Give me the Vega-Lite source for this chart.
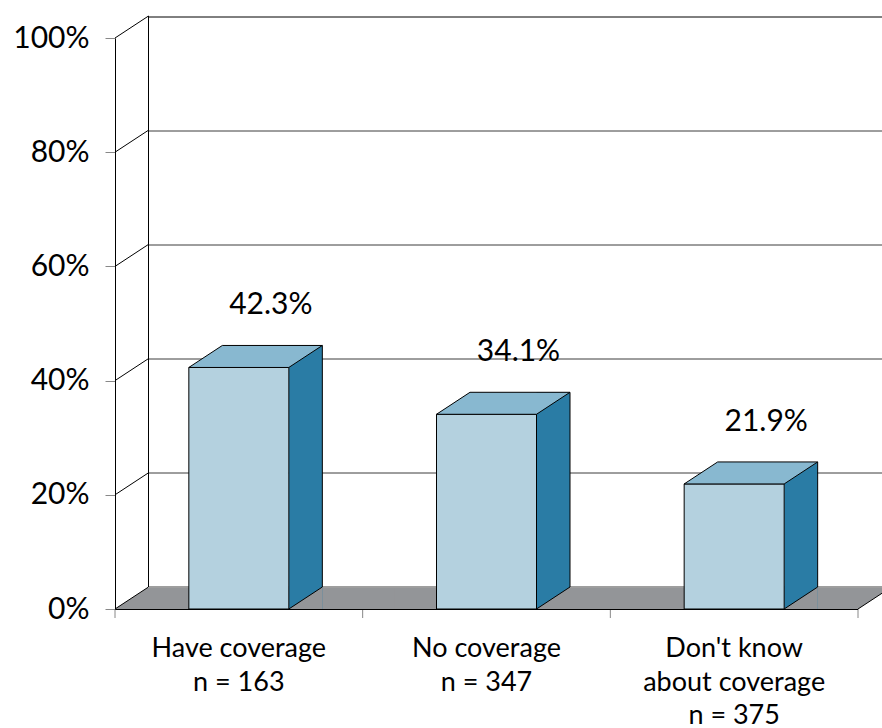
{
  "$schema": "https://vega.github.io/schema/vega-lite/v6.json",
  "width": 743,
  "height": 571,
  "autosize": {"type": "none"},
  "padding": {"left": 115, "top": 38, "right": 24, "bottom": 119},
  "background": "white",
  "config": {"view": {"stroke": null}, "font": "Lato"},
  "data": {
    "values": [
      {"group": "Have coverage|n = 163", "pct": 0.423},
      {"group": "No coverage|n = 347", "pct": 0.341},
      {"group": "Don't know|about coverage|n = 375", "pct": 0.219}
    ]
  },
  "resolve": {"scale": {"y": "independent"}, "axis": {"y": "independent"}},
  "layer": [
    {
      "transform": [{"aggregate": [{"op": "count", "as": "rows"}]}],
      "mark": {"type": "rule", "strokeOpacity": 0, "opacity": 0},
      "encoding": {
        "y": {"datum": 0, "type": "quantitative",
              "scale": {"domain": [-0.097198, 1], "range": [571, -55.5], "nice": false, "zero": false},
              "axis": {"orient": "left", "values": [0, 0.2, 0.4, 0.6, 0.8, 1], "grid": true,
                       "gridColor": {"condition": {"test": "datum.value === 1", "value": "#000000"}, "value": "#3c3c3c"},
                       "gridWidth": 1, "domain": false, "ticks": false, "labels": false,
                       "title": null, "translate": 34, "zindex": 0}}
      }
    },
    {
      "mark": {"type": "bar", "width": {"band": 1.01}, "xOffset": 33.5, "yOffset": -21, "color": "#939598", "opacity": 1},
      "encoding": {
        "x": {"field": "group", "type": "nominal", "axis": null,
              "scale": {"domain": ["Have coverage|n = 163", "No coverage|n = 347", "Don't know|about coverage|n = 375"], "paddingInner": 0, "paddingOuter": 0}},
        "y": {"datum": 0, "type": "quantitative", "axis": null, "scale": {"domain": [0, 1], "nice": false}},
        "y2": {"datum": 0}
      }
    },
    {
      "mark": {"type": "bar", "width": 33.5, "xOffset": 66.75, "yOffset": -22, "color": "#2A7CA5", "opacity": 1},
      "encoding": {
        "x": {"field": "group", "type": "nominal", "axis": null},
        "y": {"field": "pct", "type": "quantitative", "axis": null, "scale": {"domain": [0, 1], "nice": false}},
        "y2": {"datum": 0}
      }
    },
    {
      "mark": {"type": "point", "shape": "M50 0 L83.5 -22 L83.5 0 Z", "size": 4, "filled": true, "fill": "#939598", "strokeWidth": 0, "opacity": 1},
      "encoding": {
        "x": {"field": "group", "type": "nominal", "axis": null},
        "y": {"datum": 0, "type": "quantitative", "axis": null, "scale": {"domain": [0, 1], "nice": false}}
      }
    },
    {
      "mark": {"type": "bar", "width": 100, "fill": "#B4D1DF", "stroke": "#000000", "strokeWidth": 1, "opacity": 1},
      "encoding": {
        "x": {"field": "group", "type": "nominal", "axis": null},
        "y": {"field": "pct", "type": "quantitative", "scale": {"domain": [0, 1], "nice": false},
              "axis": {"orient": "left", "values": [0, 0.2, 0.4, 0.6, 0.8, 1], "format": "%", "grid": false,
                       "domainColor": "#000000", "tickColor": "#888888", "tickSize": 10, "labelPadding": 16,
                       "labelFont": "Lato", "labelFontSize": 30, "labelColor": "#000000", "title": null, "zindex": 1}},
        "y2": {"datum": 0}
      }
    },
    {
      "mark": {"type": "point", "shape": "M-50 0 L50 0 L83.5 -22 L-16.5 -22 Z", "size": 4, "filled": true, "fill": "#88B8D0", "stroke": "#000000", "strokeWidth": 1, "opacity": 1},
      "encoding": {
        "x": {"field": "group", "type": "nominal", "axis": null},
        "y": {"field": "pct", "type": "quantitative", "axis": null, "scale": {"domain": [0, 1], "nice": false}}
      }
    },
    {
      "mark": {"type": "rule", "xOffset": 83.5, "yOffset": -22, "y2Offset": -22, "color": "#000000", "strokeWidth": 1, "opacity": 1},
      "encoding": {
        "x": {"field": "group", "type": "nominal", "axis": null},
        "y": {"field": "pct", "type": "quantitative", "axis": null, "scale": {"domain": [0, 1], "nice": false}},
        "y2": {"datum": 0}
      }
    },
    {
      "mark": {"type": "point", "shape": "M50 0 L83.5 -22", "size": 4, "filled": false, "color": "#000000", "strokeWidth": 1, "opacity": 1},
      "encoding": {
        "x": {"field": "group", "type": "nominal", "axis": null},
        "y": {"datum": 0, "type": "quantitative", "axis": null, "scale": {"domain": [0, 1], "nice": false}}
      }
    },
    {
      "mark": {"type": "text", "dx": 32, "dy": -53, "baseline": "alphabetic", "align": "center", "font": "Lato", "fontSize": 30, "color": "#000000"},
      "encoding": {
        "x": {"field": "group", "type": "nominal", "axis": null},
        "y": {"field": "pct", "type": "quantitative", "axis": null, "scale": {"domain": [0, 1], "nice": false}},
        "text": {"field": "pct", "type": "quantitative", "format": ".1%"}
      }
    },
    {
      "mark": {"type": "rule", "y2Offset": 9, "color": "#888888", "strokeWidth": 1, "opacity": 1},
      "encoding": {
        "x": {"field": "group", "type": "nominal", "bandPosition": 0, "axis": null},
        "y": {"datum": 0, "type": "quantitative", "axis": null, "scale": {"domain": [0, 1], "nice": false}},
        "y2": {"datum": 0}
      }
    },
    {
      "mark": {"type": "text", "lineBreak": "|", "lineHeight": 33.5, "dy": 48, "baseline": "alphabetic", "align": "center", "font": "Lato", "fontSize": 27, "color": "#000000"},
      "encoding": {
        "x": {"field": "group", "type": "nominal", "axis": null},
        "y": {"datum": 0, "type": "quantitative", "axis": null, "scale": {"domain": [0, 1], "nice": false}},
        "text": {"field": "group", "type": "nominal"}
      }
    },
    {
      "transform": [{"aggregate": [{"op": "count", "as": "rows"}]}],
      "mark": {"type": "rule", "y2Offset": 9, "color": "#888888", "strokeWidth": 1, "opacity": 1},
      "encoding": {
        "x": {"datum": "Don't know|about coverage|n = 375", "type": "nominal", "bandPosition": 1, "axis": null},
        "y": {"datum": 0, "type": "quantitative", "axis": null, "scale": {"domain": [0, 1], "nice": false}},
        "y2": {"datum": 0}
      }
    },
    {
      "transform": [{"aggregate": [{"op": "count", "as": "rows"}]}],
      "mark": {"type": "rule", "xOffset": 33.5, "yOffset": -22, "y2Offset": -22, "color": "#000000", "strokeWidth": 1, "opacity": 1},
      "encoding": {
        "x": {"datum": "Have coverage|n = 163", "type": "nominal", "bandPosition": 0, "axis": null},
        "y": {"datum": 0, "type": "quantitative", "axis": null, "scale": {"domain": [0, 1], "nice": false}},
        "y2": {"datum": 1}
      }
    },
    {
      "transform": [{"aggregate": [{"op": "count", "as": "rows"}]}],
      "mark": {"type": "point", "shape": "M0 0 L33.5 -22 L33.5 0 Z", "size": 4, "filled": true, "fill": "#939598", "strokeWidth": 0, "opacity": 1},
      "encoding": {
        "x": {"datum": "Have coverage|n = 163", "type": "nominal", "bandPosition": 0, "axis": null},
        "y": {"datum": 0, "type": "quantitative", "axis": null, "scale": {"domain": [0, 1], "nice": false}}
      }
    },
    {
      "transform": [{"aggregate": [{"op": "count", "as": "rows"}]}],
      "mark": {"type": "point", "shape": "M0 0 L33.5 -22 L33.5 0 Z", "size": 4, "filled": true, "fill": "#ffffff", "strokeWidth": 0, "opacity": 1},
      "encoding": {
        "x": {"datum": "Don't know|about coverage|n = 375", "type": "nominal", "bandPosition": 1, "axis": null},
        "y": {"datum": 0, "type": "quantitative", "axis": null, "scale": {"domain": [0, 1], "nice": false}}
      }
    },
    {
      "transform": [{"aggregate": [{"op": "count", "as": "rows"}]}],
      "mark": {"type": "rule", "yOffset": 0.5, "color": "#000000", "strokeWidth": 1, "opacity": 1},
      "encoding": {
        "y": {"datum": 0, "type": "quantitative", "axis": null, "scale": {"domain": [0, 1], "nice": false}}
      }
    },
    {
      "transform": [{"aggregate": [{"op": "count", "as": "rows"}]}],
      "mark": {"type": "point", "shape": "M0 0 L33.5 -22", "size": 4, "filled": false, "color": "#000000", "strokeWidth": 1, "opacity": 1},
      "encoding": {
        "x": {"datum": "Don't know|about coverage|n = 375", "type": "nominal", "bandPosition": 1, "axis": null},
        "y": {"datum": 0, "type": "quantitative", "axis": null, "scale": {"domain": [0, 1], "nice": false}}
      }
    },
    {
      "transform": [{"aggregate": [{"op": "count", "as": "rows"}]}],
      "mark": {"type": "point", "shape": "M0 0 L33.5 -22", "size": 4, "filled": false, "color": "#000000", "strokeWidth": 1, "opacity": 1},
      "encoding": {
        "x": {"datum": "Have coverage|n = 163", "type": "nominal", "bandPosition": 0, "axis": null},
        "y": {"datum": 0, "type": "quantitative", "axis": null, "scale": {"domain": [0, 1], "nice": false}}
      }
    },
    {
      "transform": [{"aggregate": [{"op": "count", "as": "rows"}]}],
      "mark": {"type": "point", "shape": "M0 0 L33.5 -22", "size": 4, "filled": false, "color": "#000000", "strokeWidth": 1, "opacity": 1},
      "encoding": {
        "x": {"datum": "Have coverage|n = 163", "type": "nominal", "bandPosition": 0, "axis": null},
        "y": {"datum": 0.2, "type": "quantitative", "axis": null, "scale": {"domain": [0, 1], "nice": false}}
      }
    },
    {
      "transform": [{"aggregate": [{"op": "count", "as": "rows"}]}],
      "mark": {"type": "point", "shape": "M0 0 L33.5 -22", "size": 4, "filled": false, "color": "#000000", "strokeWidth": 1, "opacity": 1},
      "encoding": {
        "x": {"datum": "Have coverage|n = 163", "type": "nominal", "bandPosition": 0, "axis": null},
        "y": {"datum": 0.4, "type": "quantitative", "axis": null, "scale": {"domain": [0, 1], "nice": false}}
      }
    },
    {
      "transform": [{"aggregate": [{"op": "count", "as": "rows"}]}],
      "mark": {"type": "point", "shape": "M0 0 L33.5 -22", "size": 4, "filled": false, "color": "#000000", "strokeWidth": 1, "opacity": 1},
      "encoding": {
        "x": {"datum": "Have coverage|n = 163", "type": "nominal", "bandPosition": 0, "axis": null},
        "y": {"datum": 0.6, "type": "quantitative", "axis": null, "scale": {"domain": [0, 1], "nice": false}}
      }
    },
    {
      "transform": [{"aggregate": [{"op": "count", "as": "rows"}]}],
      "mark": {"type": "point", "shape": "M0 0 L33.5 -22", "size": 4, "filled": false, "color": "#000000", "strokeWidth": 1, "opacity": 1},
      "encoding": {
        "x": {"datum": "Have coverage|n = 163", "type": "nominal", "bandPosition": 0, "axis": null},
        "y": {"datum": 0.8, "type": "quantitative", "axis": null, "scale": {"domain": [0, 1], "nice": false}}
      }
    },
    {
      "transform": [{"aggregate": [{"op": "count", "as": "rows"}]}],
      "mark": {"type": "point", "shape": "M0 0 L33.5 -22", "size": 4, "filled": false, "color": "#000000", "strokeWidth": 1, "opacity": 1},
      "encoding": {
        "x": {"datum": "Have coverage|n = 163", "type": "nominal", "bandPosition": 0, "axis": null},
        "y": {"datum": 1, "type": "quantitative", "axis": null, "scale": {"domain": [0, 1], "nice": false}}
      }
    }
  ]
}
